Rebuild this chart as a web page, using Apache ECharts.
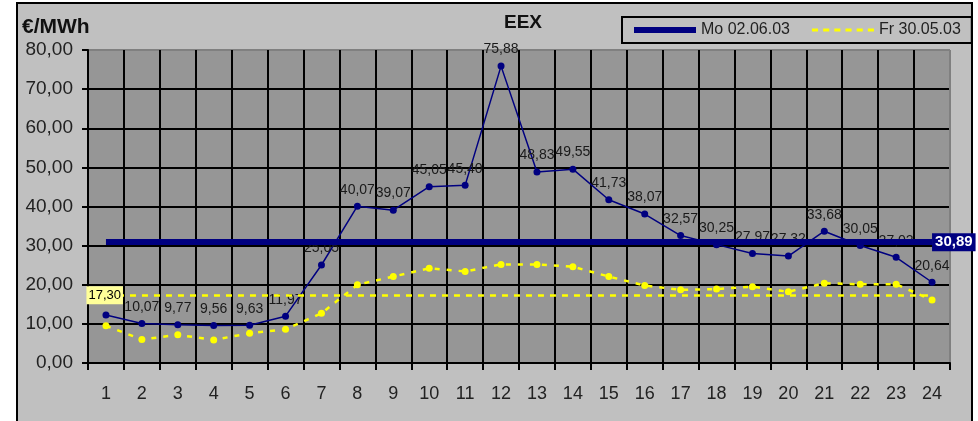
<!DOCTYPE html>
<html>
<head>
<meta charset="utf-8">
<script src="https://cdn.jsdelivr.net/npm/echarts@6/dist/echarts.min.js"></script>
<style>
html,body{margin:0;padding:0;background:#ffffff;}
#chart{width:978px;height:421px;}
</style>
</head>
<body>
<div id="chart"></div>
<script>
const hours = ['1','2','3','4','5','6','7','8','9','10','11','12','13','14','15','16','17','18','19','20','21','22','23','24'];
const moValues = [12.27, 10.07, 9.77, 9.56, 9.63, 11.97, 25.05, 40.07, 39.07, 45.05, 45.40, 75.88, 48.83, 49.55, 41.73, 38.07, 32.57, 30.25, 27.97, 27.32, 33.68, 30.05, 27.02, 20.64];
const frValues = [9.5, 6.0, 7.2, 5.9, 7.6, 8.6, 12.7, 20.0, 22.1, 24.2, 23.4, 25.2, 25.2, 24.6, 22.1, 19.8, 18.7, 18.9, 19.5, 18.2, 20.4, 20.1, 20.1, 16.1];
const moAvg = 30.89;
const frAvg = 17.30;
const moName = 'Mo 02.06.03';
const frName = 'Fr 30.05.03';
const yMin = 0, yMax = 80, yStep = 10;

const fmt = v => Number(v).toFixed(2).replace('.', ',');
const FONT = '"Liberation Sans", Arial, sans-serif';
const NAVY = '#000080';
const YELLOW = '#ffff00';

// grid line colours: black inside, grey at the plot's top / right edge
const ySplitColors = [];
for (let i = 0; i < (yMax - yMin) / yStep; i++) ySplitColors.push('#000000');
ySplitColors.push('#808080');
const xSplitColors = hours.map(() => '#000000');
xSplitColors.push('#808080');

const chart = echarts.init(document.getElementById('chart'), null, {renderer: 'canvas'});
chart.setOption({
  animation: false,
  backgroundColor: '#ffffff',
  graphic: [{
    type: 'rect', z: -10,
    shape: {x: 17, y: 3, width: 955, height: 440},
    style: {fill: '#c0c0c0', stroke: '#000000', lineWidth: 2}
  }],
  title: [
    {text: 'EEX', left: 504, top: 13, padding: 0,
     textStyle: {fontFamily: FONT, fontSize: 19, fontWeight: 'bold', color: '#111111'}},
    {text: '€/MWh', left: 22, top: 17, padding: 0,
     textStyle: {fontFamily: FONT, fontSize: 21, fontWeight: 'bold', color: '#111111'}}
  ],
  legend: {
    left: 622, top: 17,
    padding: [5, 11, 5, 12],
    borderColor: '#000000', borderWidth: 2,
    itemWidth: 62, itemHeight: 6, itemGap: 22,
    symbolKeepAspect: true,
    textStyle: {fontFamily: FONT, fontSize: 16, color: '#222222'},
    data: [
      {name: moName, icon: 'rect', itemStyle: {color: NAVY}},
      {name: frName, icon: 'path://M0,0h6v3h-6zM11,0h6v3h-6zM22,0h6v3h-6zM33,0h6v3h-6zM44,0h6v3h-6zM55,0h6v3h-6z', itemStyle: {color: YELLOW}}
    ]
  },
  grid: {
    left: 88, top: 50, right: 28, bottom: 58,
    show: true, backgroundColor: '#969696', borderColor: '#808080', borderWidth: 1
  },
  xAxis: {
    type: 'category', data: hours, boundaryGap: true,
    axisLine: {show: true, lineStyle: {color: '#000000', width: 2}},
    axisTick: {show: true, inside: false, length: 7, lineStyle: {color: '#000000', width: 2}},
    axisLabel: {margin: 22, fontFamily: FONT, fontSize: 18, color: '#222222'},
    splitLine: {show: true, lineStyle: {color: xSplitColors, width: 2}}
  },
  yAxis: {
    type: 'value', min: yMin, max: yMax, interval: yStep,
    axisLine: {show: true, lineStyle: {color: '#000000', width: 2}},
    axisTick: {show: true, inside: false, length: 6, lineStyle: {color: '#000000', width: 2}},
    axisLabel: {margin: 15, fontFamily: FONT, fontSize: 19, color: '#222222', formatter: v => fmt(v)},
    splitLine: {show: true, lineStyle: {color: ySplitColors, width: 2}}
  },
  series: [
    {
      name: moName, type: 'line', data: moValues, z: 3,
      symbol: 'circle', symbolSize: 7, showAllSymbol: true,
      lineStyle: {color: NAVY, width: 1.5},
      itemStyle: {color: NAVY},
      label: {show: true, position: 'top', distance: 6, fontFamily: FONT, fontSize: 14, color: '#1a1a1a',
              formatter: p => fmt(p.value)},
      markLine: {
        silent: true, symbol: ['none', 'none'], z: 4,
        lineStyle: {color: NAVY, width: 6, type: 'solid'},
        label: {show: true, position: 'end', distance: 0, formatter: fmt(moAvg),
                backgroundColor: NAVY, color: '#ffffff', fontFamily: FONT, fontWeight: 'bold', fontSize: 15,
                padding: [2, 3, 1, 3]},
        data: [[{coord: [0, moAvg]}, {coord: [hours.length - 1, moAvg]}]]
      }
    },
    {
      name: frName, type: 'line', data: frValues, z: 2,
      symbol: 'circle', symbolSize: 7, showAllSymbol: true,
      lineStyle: {color: YELLOW, width: 2.5, type: [5, 7]},
      itemStyle: {color: YELLOW},
      markLine: {
        silent: true, symbol: ['none', 'none'], z: 5,
        lineStyle: {color: YELLOW, width: 2.5, type: [6, 6]},
        label: {show: true, position: 'start', distance: -17, formatter: fmt(frAvg),
                backgroundColor: '#ffff99', color: '#000000', fontFamily: FONT, fontSize: 13,
                padding: [3, 2, 2, 2]},
        data: [[{coord: [0, frAvg]}, {coord: [hours.length - 1, frAvg]}]]
      }
    }
  ]
});
</script>
</body>
</html>
